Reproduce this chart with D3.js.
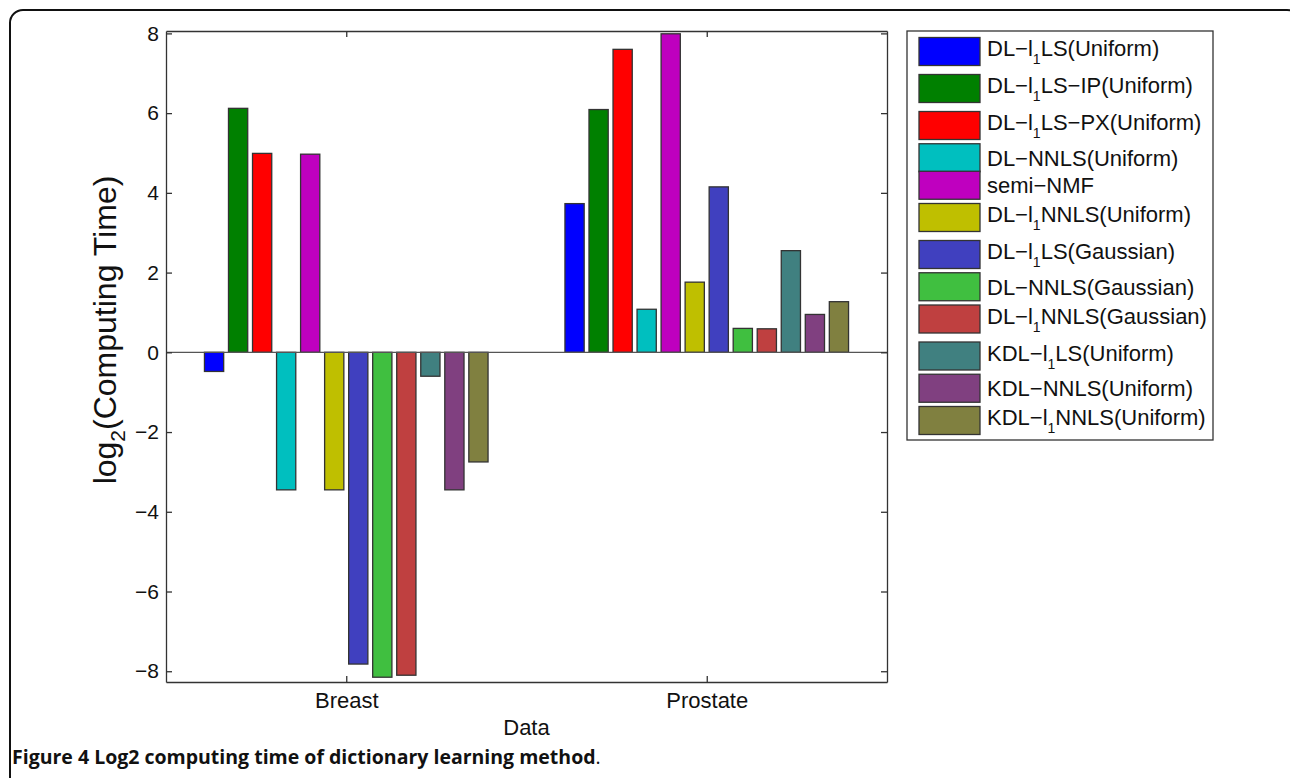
<!DOCTYPE html>
<html lang="en">
  <head>
    <meta charset="UTF-8" />
    <script src="https://d3js.org/d3.v7.min.js"></script>
    <style>
      body {
        margin: 0;
        background: #fff;
      }
      text {
        font-family: "Liberation Sans", Arial, sans-serif;
        fill: #111;
      }
      .axis path,
      .axis line {
        stroke: #333;
        stroke-width: 1.3px;
      }
      .bar {
        stroke: #333;
        stroke-width: 1.3px;
      }
    </style>
    <title>Figure 4</title>
  </head>
  <body>
    <svg id="chart" width="1290" height="778"></svg>
    <script>
      // data
      const categories = ["Breast", "Prostate"];
      const methods = [
        "DL−l_1LS(Uniform)",
        "DL−l_1LS−IP(Uniform)",
        "DL−l_1LS−PX(Uniform)",
        "DL−NNLS(Uniform)",
        "semi−NMF",
        "DL−l_1NNLS(Uniform)",
        "DL−l_1LS(Gaussian)",
        "DL−NNLS(Gaussian)",
        "DL−l_1NNLS(Gaussian)",
        "KDL−l_1LS(Uniform)",
        "KDL−NNLS(Uniform)",
        "KDL−l_1NNLS(Uniform)",
      ];
      const breastValues = [
        -0.48, 6.12, 4.99, -3.45, 4.97, -3.45, -7.82, -8.15, -8.1, -0.6,
        -3.45, -2.75,
      ];
      const prostateValues = [
        3.73, 6.09, 7.6, 1.08, 7.99, 1.76, 4.15, 0.6, 0.59, 2.55, 0.95, 1.27,
      ];
      const colors = [
        "#0000ff",
        "#008000",
        "#ff0000",
        "#00bfbf",
        "#bf00bf",
        "#bfbf00",
        "#4040bf",
        "#40bf40",
        "#bf4040",
        "#408080",
        "#804080",
        "#808040",
      ];
      const yTicks = [-8, -6, -4, -2, 0, 2, 4, 6, 8];

      const svg = d3.select("#chart");

      // outer figure frame
      svg
        .append("rect")
        .attr("x", 10)
        .attr("y", 10)
        .attr("width", 1290)
        .attr("height", 780)
        .attr("rx", 13)
        .attr("fill", "none")
        .attr("stroke", "#111")
        .attr("stroke-width", 2);

      const plot = { left: 166, right: 887, top: 31, bottom: 682 };

      const x = d3.scaleLinear().domain([0.5, 2.5]).range([plot.left, plot.right]);
      const y = d3.scaleLinear().domain([-8.27, 8.06]).range([plot.bottom, plot.top]);

      const nBars = methods.length;
      const slot = 0.8 / nBars;

      // bars
      const series = [breastValues, prostateValues];
      series.forEach((vals, c) => {
        svg
          .append("g")
          .selectAll("rect")
          .data(vals)
          .join("rect")
          .attr("class", "bar")
          .attr("x", (d, i) => x(c + 1 + (i - (nBars - 1) / 2) * slot - slot * 0.4))
          .attr("width", x(slot * 0.8) - x(0))
          .attr("y", (d) => y(Math.max(0, d)))
          .attr("height", (d) => Math.abs(y(d) - y(0)))
          .attr("fill", (d, i) => colors[i]);
      });

      // baseline at zero
      svg
        .append("line")
        .attr("x1", plot.left)
        .attr("x2", plot.right)
        .attr("y1", y(0))
        .attr("y2", y(0))
        .attr("stroke", "#555")
        .attr("stroke-width", 1.3);

      // axes (MATLAB style box, ticks pointing inward)
      const yAxis = svg
        .append("g")
        .attr("class", "axis")
        .attr("transform", `translate(${plot.left},0)`)
        .call(
          d3.axisLeft(y).tickValues(yTicks).tickSize(-6).tickSizeOuter(0).tickPadding(7)
        );
      yAxis.selectAll("text").style("font-size", "21px").attr("fill", "#111");

      svg
        .append("g")
        .attr("class", "axis")
        .attr("transform", `translate(${plot.right},0)`)
        .call(d3.axisRight(y).tickValues(yTicks).tickSize(-6).tickSizeOuter(0).tickFormat(""));

      svg
        .append("g")
        .attr("class", "axis")
        .attr("transform", `translate(0,${plot.top})`)
        .call(d3.axisTop(x).tickValues([1, 2]).tickSize(-6).tickSizeOuter(0).tickFormat(""));

      const xAxis = svg
        .append("g")
        .attr("class", "axis")
        .attr("transform", `translate(0,${plot.bottom})`)
        .call(
          d3
            .axisBottom(x)
            .tickValues([1, 2])
            .tickSize(-6)
            .tickSizeOuter(0)
            .tickPadding(10)
            .tickFormat((d) => categories[d - 1])
        );
      xAxis.selectAll("text").style("font-size", "22px").attr("fill", "#111");

      // axis labels
      svg
        .append("text")
        .attr("x", (plot.left + plot.right) / 2)
        .attr("y", 735)
        .attr("text-anchor", "middle")
        .style("font-size", "22px")
        .text("Data");

      const yLabel = svg
        .append("text")
        .attr("transform", "translate(116,330) rotate(-90)")
        .attr("text-anchor", "middle")
        .style("font-size", "32px");
      yLabel.append("tspan").text("log");
      yLabel.append("tspan").attr("dy", 9).style("font-size", "21px").text("2");
      yLabel.append("tspan").attr("dy", -9).text("(Computing Time)");

      // legend
      const legendBox = { x: 907, y: 31, w: 306, h: 409 };
      svg
        .append("rect")
        .attr("x", legendBox.x)
        .attr("y", legendBox.y)
        .attr("width", legendBox.w)
        .attr("height", legendBox.h)
        .attr("fill", "#fff")
        .attr("stroke", "#333")
        .attr("stroke-width", 1.3);

      // rows with a subscript are taller, as in the original
      let rowTop = legendBox.y + 2;
      const rows = methods.map((m) => {
        const hasSub = m.includes("_1");
        const h = hasSub ? 37 : 27.5;
        const r = { label: m, hasSub: hasSub, center: rowTop + h / 2 };
        rowTop += h;
        return r;
      });

      const legend = svg
        .append("g")
        .selectAll("g")
        .data(rows)
        .join("g")
        .attr("transform", (d) => `translate(0,${d.center})`);

      legend
        .append("rect")
        .attr("class", "bar")
        .attr("x", 919)
        .attr("y", -14)
        .attr("width", 61)
        .attr("height", 28)
        .attr("fill", (d, i) => colors[i]);

      const legendText = legend
        .append("text")
        .attr("x", 987)
        .attr("y", (d) => (d.hasSub ? 4.5 : 8))
        .style("font-size", "22px");

      legendText.each(function (d) {
        const t = d3.select(this);
        const parts = d.label.split("_1");
        t.append("tspan").text(parts[0]);
        if (parts.length > 1) {
          t.append("tspan").attr("dy", 8).style("font-size", "14px").text("1");
          t.append("tspan").attr("dy", -8).text(parts[1]);
        }
      });

      // caption
      const caption = svg
        .append("text")
        .attr("x", 12)
        .attr("y", 764)
        .style("font-family", "'Open Sans', sans-serif")
        .style("font-size", "19.5px");
      caption
        .append("tspan")
        .style("font-weight", "bold")
        .text("Figure 4 Log2 computing time of dictionary learning method");
      caption.append("tspan").text(".");
    </script>
  </body>
</html>
